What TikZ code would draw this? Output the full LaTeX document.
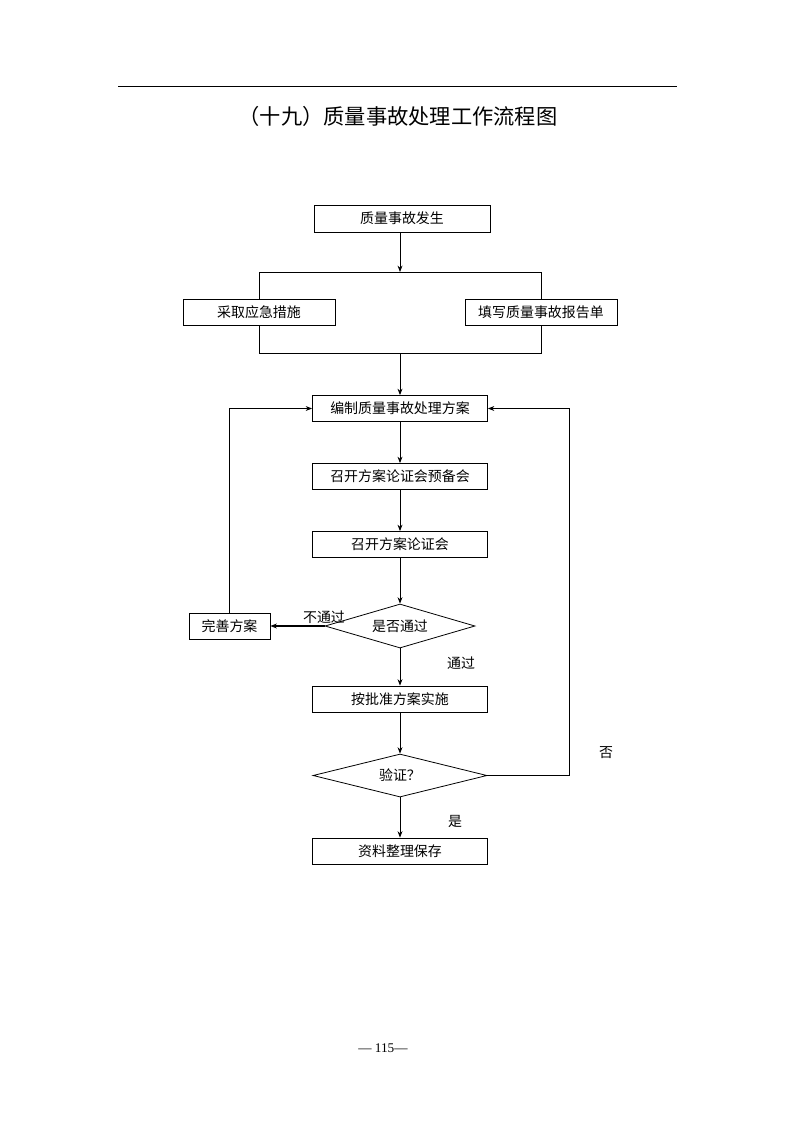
\documentclass[tikz,border=0pt]{standalone}
\usepackage{fontspec}
\setmainfont{Liberation Serif}
\newfontfamily\cjk{Noto Sans CJK SC}
\usetikzlibrary{shapes.geometric,arrows.meta}
\def \px {0.2646mm}
\tikzset{stepbox/.style={draw, line width=0.6pt, minimum width=175*\px, minimum height=26*\px, inner sep=0pt, font=\cjk\fontsize{10.5}{12}\selectfont}}
\tikzset{askbox/.style={diamond, draw, line width=0.6pt, aspect=3.4, inner sep=0pt, font=\cjk\fontsize{10.5}{12}\selectfont}}
\tikzset{tag/.style={inner sep=0pt, font=\cjk\fontsize{10.5}{12}\selectfont}}
\tikzset{flow/.style={line width=0.6pt, -{Stealth[length=1.7mm,width=1.3mm]}}}

\begin{document}
\begin{tikzpicture}[x=\px, y=-\px]

    \useasboundingbox (0,0) rectangle (794,1123);
    \draw[line width=0.6pt] (118,86) -- (677,86);
    \node[tag, font=\cjk\fontsize{16}{19}\selectfont] (title) at (398,116) {（十九）质量事故处理工作流程图};

    \node[stepbox, minimum width=176*\px, minimum height=27*\px] (fasheng) at (402,218.5) {质量事故发生};
    \node[stepbox, minimum width=152*\px] (cuoshi) at (259,312) {采取应急措施};
    \node[stepbox, minimum width=152*\px] (baogao) at (541,312) {填写质量事故报告单};
    \node[stepbox] (bianzhi) at (400,408.5) {编制质量事故处理方案};
    \node[stepbox] (yubei) at (400,476.5) {召开方案论证会预备会};
    \node[stepbox] (lunzheng) at (400,544.5) {召开方案论证会};
    \node[askbox, minimum width=150*\px, minimum height=44*\px] (tongguo) at (400,626) {是否通过};
    \node[stepbox, minimum width=81*\px] (wanshan) at (229.5,626) {完善方案};
    \node[stepbox] (shishi) at (400,699) {按批准方案实施};
    \node[askbox, minimum width=174*\px, minimum height=43*\px, aspect=4] (yanzheng) at (400,775.5) {验证？};
    \node[stepbox] (baocun) at (400,851) {资料整理保存};

    \coordinate (fenM) at (400,272);
    \coordinate (fenL) at (259,272);
    \coordinate (fenR) at (541,272);
    \coordinate (heM) at (400,353);
    \coordinate (heL) at (259,353);
    \coordinate (heR) at (541,353);
    \coordinate (fou) at (569,775.5);

    \draw[flow] (fasheng.south -| fenM) -- (fenM);
    \draw[line width=0.6pt] (cuoshi.north) -- (fenL) -- (fenR) -- (baogao.north);
    \draw[line width=0.6pt] (cuoshi.south) -- (heL) -- (heR) -- (baogao.south);
    \draw[flow] (heM) -- (bianzhi);
    \draw[flow] (bianzhi) -- (yubei);
    \draw[flow] (yubei) -- (lunzheng);
    \draw[flow] (lunzheng) -- (tongguo);
    \draw[flow, line width=1.3pt] (tongguo.west) -- (wanshan.east);
    \draw[flow] (wanshan.north) |- (bianzhi.west);
    \draw[flow] (tongguo) -- (shishi);
    \draw[flow] (shishi) -- (yanzheng);
    \draw[flow] (yanzheng.east) -- (fou) |- (bianzhi.east);
    \draw[flow] (yanzheng) -- (baocun);

    \node[tag] (butong) at (324,617) {不通过};
    \node[tag] (tong) at (461,663) {通过};
    \node[tag] (fouzi) at (606,753) {否};
    \node[tag] (shizi) at (455,821) {是};

    \node[inner sep=0pt, font=\fontsize{10}{12}\selectfont] (yema) at (383,1048) {— 115—};

\end{tikzpicture}
\end{document}
